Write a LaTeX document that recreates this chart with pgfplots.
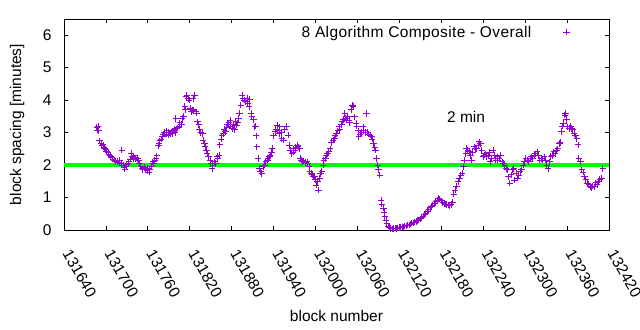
\documentclass[border=0pt]{standalone}
\usepackage{fontspec}
\setmainfont{Liberation Sans}
\usepackage{pgfplots}
\pgfplotsset{compat=1.18}
\definecolor{gpviolet}{RGB}{148,0,211}
\definecolor{gpgreen}{RGB}{0,255,0}
\newcommand{\gpfont}{\fontsize{15.5bp}{18bp}\selectfont}
\newcommand{\gplegfont}{\fontsize{15.5bp}{18bp}\selectfont\addfontfeature{LetterSpace=2.5}}
\pgfplotsset{gpmarks/.style={only marks, mark=+, mark size=3.2bp, draw=gpviolet, fill=gpviolet,
  mark options={line width=1bp, draw=gpviolet, fill=gpviolet, solid}}}
\pgfplotstableread{
x y
131687 3.17
131688 3.08
131689 3.20
131690 3.05
131691 2.75
131693 2.68
131694 2.60
131696 2.62
131697 2.55
131698 2.50
131700 2.48
131701 2.42
131703 2.38
131704 2.33
131706 2.30
131707 2.25
131709 2.22
131710 2.18
131712 2.15
131714 2.12
131716 2.10
131717 2.13
131719 2.08
131720 2.15
131722 2.05
131723 2.46
131725 2.00
131726 1.92
131727 1.87
131729 1.95
131730 2.02
131732 2.05
131733 2.10
131735 2.18
131736 2.36
131737 2.25
131739 2.20
131740 2.28
131742 2.22
131743 2.18
131745 2.20
131747 2.15
131748 2.05
131750 1.95
131752 1.88
131753 1.85
131755 1.92
131757 1.86
131759 1.82
131760 1.90
131762 1.78
131763 1.85
131765 1.95
131767 2.10
131768 2.05
131770 2.15
131772 2.20
131773 2.28
131775 2.60
131776 2.67
131777 2.75
131779 2.80
131781 2.88
131782 2.95
131784 3.00
131786 2.95
131787 3.05
131789 2.92
131790 3.00
131792 2.95
131794 3.02
131795 2.97
131796 3.05
131798 3.10
131799 3.00
131800 3.44
131801 3.12
131803 3.15
131805 3.20
131806 3.30
131808 3.25
131809 3.44
131811 3.50
131813 3.80
131814 3.70
131815 4.10
131816 4.15
131818 4.05
131819 4.00
131821 3.75
131822 3.64
131824 3.70
131825 4.05
131826 3.68
131827 4.15
131829 3.64
131830 3.60
131831 3.33
131833 3.25
131834 3.10
131836 3.00
131838 2.97
131839 2.77
131841 2.65
131842 2.56
131844 2.45
131845 2.36
131847 2.25
131849 2.15
131850 2.05
131852 1.90
131853 2.00
131855 2.10
131857 2.05
131859 2.26
131860 2.20
131862 2.30
131863 2.62
131865 2.80
131866 2.90
131868 2.97
131869 3.10
131871 3.03
131873 3.15
131874 3.25
131876 3.30
131878 3.38
131879 3.20
131881 3.13
131882 3.25
131884 3.10
131886 3.35
131887 3.23
131889 3.30
131890 3.44
131891 3.60
131893 3.85
131895 4.15
131896 4.05
131898 4.00
131900 3.95
131902 4.05
131903 3.90
131905 3.80
131906 4.02
131908 3.59
131909 3.50
131911 3.40
131913 3.18
131914 3.20
131915 2.90
131916 2.56
131918 2.20
131920 1.90
131921 1.80
131923 1.74
131925 1.95
131927 2.00
131929 2.10
131931 2.15
131932 2.20
131934 2.25
131935 2.31
131937 2.40
131938 2.51
131940 2.90
131942 3.03
131943 3.10
131945 3.23
131946 3.05
131948 2.97
131949 3.18
131951 3.00
131952 2.82
131954 2.77
131956 3.10
131958 3.18
131959 3.20
131961 2.92
131963 2.60
131964 2.45
131966 2.36
131968 2.40
131969 2.50
131971 2.46
131972 2.55
131974 2.60
131975 2.56
131977 2.50
131978 2.20
131980 2.15
131981 2.10
131983 2.12
131985 2.10
131986 2.08
131988 2.10
131989 2.06
131991 1.95
131992 1.80
131994 1.75
131995 1.70
131997 1.65
131999 1.64
132000 1.55
132001 1.38
132003 1.50
132004 1.23
132006 1.60
132007 1.74
132009 1.80
132011 2.00
132012 2.15
132014 2.20
132015 2.31
132017 2.35
132019 2.41
132021 2.50
132023 2.70
132025 2.77
132027 2.82
132028 2.90
132030 2.97
132032 3.05
132034 3.18
132035 3.10
132037 3.25
132038 3.35
132040 3.40
132042 3.59
132043 3.45
132045 3.38
132046 3.50
132048 3.38
132049 3.30
132051 3.70
132053 3.85
132054 3.80
132056 3.49
132058 3.28
132059 3.20
132061 3.05
132062 2.87
132064 2.95
132066 3.00
132068 3.18
132069 3.05
132071 3.00
132073 3.59
132074 3.00
132076 2.95
132078 2.92
132080 2.87
132081 2.80
132083 2.67
132085 2.55
132086 2.46
132087 2.20
132089 2.00
132090 1.85
132092 1.69
132094 0.92
132095 0.80
132097 0.67
132098 0.55
132099 0.41
132101 0.30
132102 0.21
132104 0.12
132106 0.08
132108 0.05
132110 0.04
132112 0.05
132114 0.06
132116 0.05
132118 0.07
132120 0.08
132122 0.08
132124 0.10
132126 0.10
132128 0.12
132130 0.13
132132 0.15
132134 0.16
132136 0.18
132138 0.21
132140 0.22
132142 0.24
132144 0.26
132146 0.29
132148 0.31
132150 0.34
132152 0.38
132154 0.43
132156 0.48
132158 0.52
132160 0.58
132162 0.63
132164 0.68
132166 0.72
132168 0.77
132170 0.83
132172 0.88
132174 0.92
132176 0.97
132178 0.95
132180 0.90
132182 0.85
132184 0.82
132186 0.80
132188 0.78
132190 0.77
132192 0.76
132194 0.78
132196 0.85
132198 1.10
132200 1.23
132202 1.35
132204 1.50
132206 1.60
132208 1.69
132210 1.75
132212 1.95
132213 2.15
132215 2.35
132216 2.51
132218 2.45
132220 2.41
132222 2.30
132223 2.15
132225 2.40
132227 2.56
132229 2.50
132231 2.51
132233 2.60
132234 2.72
132236 2.65
132238 2.45
132240 2.26
132242 2.31
132243 2.35
132245 2.25
132247 2.31
132249 2.40
132250 2.10
132252 2.20
132254 2.46
132256 2.30
132258 2.15
132260 2.25
132261 2.15
132263 2.20
132265 2.31
132267 2.10
132269 2.05
132271 2.00
132273 1.90
132275 1.85
132276 1.64
132278 1.44
132280 1.70
132282 1.85
132284 1.90
132285 1.54
132287 1.75
132289 1.60
132291 1.69
132293 1.80
132295 1.85
132297 2.00
132299 2.10
132301 2.20
132303 2.15
132305 2.10
132307 2.20
132309 2.25
132311 2.20
132313 2.30
132315 2.35
132317 2.41
132319 2.30
132321 2.15
132323 2.20
132325 2.15
132327 2.25
132329 2.15
132331 2.00
132333 1.90
132335 2.10
132337 2.26
132339 2.30
132341 2.41
132343 2.35
132345 2.46
132347 2.50
132349 2.67
132350 2.70
132352 3.03
132353 3.20
132355 3.28
132357 3.54
132358 3.59
132359 3.40
132361 3.18
132363 3.13
132365 3.20
132367 3.13
132368 3.10
132370 2.97
132372 2.90
132374 2.82
132376 2.62
132377 2.20
132379 2.10
132381 1.85
132383 1.78
132385 1.64
132387 1.55
132389 1.44
132391 1.40
132393 1.33
132395 1.30
132397 1.35
132399 1.33
132401 1.45
132403 1.40
132405 1.49
132407 1.55
132409 1.59
132411 1.90
}\dataA
\begin{document}
\begin{tikzpicture}
\useasboundingbox (-64bp,-100bp) rectangle (576bp,230bp);
\begin{axis}[
  at={(0,0)}, anchor=south west,
  scale only axis, width=545bp, height=211bp,
  xmin=131640, xmax=132420, ymin=0, ymax=6.5,
  scaled x ticks=false, scaled y ticks=false,
  xtick={131640,131700,131760,131820,131880,131940,132000,132060,132120,132180,132240,132300,132360,132420},
  xticklabels={131640,131700,131760,131820,131880,131940,132000,132060,132120,132180,132240,132300,132360,132420},
  ytick={0,1,2,3,4,5,6},
  tick align=inside,
  major tick length=4bp,
  axis line style={line width=0.8bp, black},
  tick style={line width=0.8bp, black},
  tick label style={font=\gpfont},
  /pgf/number format/assume math mode=true,
  xticklabel style={xshift=1bp, yshift=-18bp, rotate=-60, anchor=west},
  yticklabel style={xshift=-9bp},
  xlabel={block number}, ylabel={block spacing [minutes]},
  label style={font=\gpfont},
  xlabel style={at={(axis description cs:0.5,-0.4076)}, anchor=center},
  ylabel style={at={(axis description cs:-0.0862,0.5)}, anchor=center},
  legend style={draw=none, fill=none, at={(axis description cs:0.934,0.937)}, anchor=east, font=\gplegfont,
    /tikz/every odd column/.append style={column sep=30bp}},
  legend plot pos=right,
  legend cell align=right,
]
\addplot[gpmarks] table[x=x, y=y] {\dataA};
\addlegendentry{8 Algorithm Composite - Overall}
\addplot[gpgreen, line width=3.5bp, forget plot] coordinates {(131640,2) (132420,2)};
\node[anchor=west, inner sep=0pt, font=\gpfont] at (axis cs:132188,3.49) {2 min};
\end{axis}
\end{tikzpicture}
\end{document}
